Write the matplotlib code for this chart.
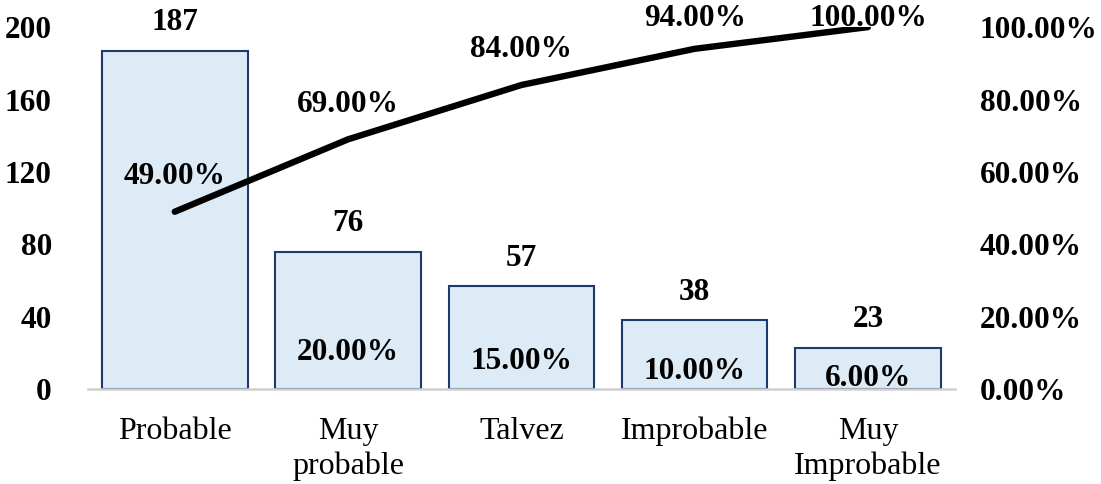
import numpy as np
import matplotlib
matplotlib.use("Agg")
import matplotlib.pyplot as plt

plt.rcParams['font.family'] = ['Liberation Serif', 'DejaVu Serif']

categorias = ["Probable", "Muy\nprobable", "Talvez", "Improbable", "Muy\nImprobable"]
frecuencia = [187, 76, 57, 38, 23]
porcentaje = [49, 20, 15, 10, 6]          # % individual
acumulado = [0.49, 0.69, 0.84, 0.94, 1.00]  # % acumulado

FS = 22.5
x = np.arange(len(categorias))

fig = plt.figure(figsize=(11.01, 4.84), dpi=100)
ax = fig.add_axes([0.08, 0.196, 0.787, 0.748])
ax2 = ax.twinx()

ax.bar(x, frecuencia, width=0.84, color="#DDEBF7", edgecolor="#1F3A6E", linewidth=1.5, zorder=2)
ax.set_xlim(-0.5, len(x) - 0.5)
ax.set_ylim(0, 200)
ax.set_yticks([0, 40, 80, 120, 160, 200])

ax2.set_ylim(0, 1)
ax2.set_yticks([0, 0.2, 0.4, 0.6, 0.8, 1.0])
ax2.set_yticklabels(["%.2f%%" % (v * 100) for v in ax2.get_yticks()])
ax2.plot(x, acumulado, color="black", linewidth=4.6, solid_capstyle="round", zorder=3)

for a in (ax, ax2):
    for s in a.spines.values():
        s.set_visible(False)
    a.tick_params(length=0)
ax.spines['bottom'].set_visible(True)
ax.spines['bottom'].set_color("#D0D0D0")
ax.spines['bottom'].set_linewidth(1.8)

ax.set_xticks(x)
ax.set_xticklabels(categorias, fontsize=23, linespacing=1.25)
ax.tick_params(axis='x', pad=20)
ax.tick_params(axis='y', pad=26)
ax2.tick_params(axis='y', pad=18)
for lbl in ax.get_yticklabels() + ax2.get_yticklabels():
    lbl.set_fontsize(FS)
    lbl.set_fontweight("bold")

# etiquetas de frecuencia
for xi, v in zip(x, frecuencia):
    ax2.annotate(str(v), (xi, v), xycoords=ax.transData, xytext=(0, 20),
                 textcoords="offset points", ha="center", va="center",
                 fontsize=FS, fontweight="bold", annotation_clip=False, zorder=5)

# porcentaje individual (el primero queda oculto)
for xi, p in list(zip(x, porcentaje))[1:]:
    ax2.text(xi, p, "%.2f%%" % p, transform=ax.transData, ha="center", va="center",
             fontsize=FS, fontweight="bold", zorder=5)

# porcentaje acumulado
for xi, c in zip(x, acumulado):
    yl = min(c * 200 + 19.5, 204.5)
    ax2.text(xi, yl, "%.2f%%" % (c * 100), transform=ax.transData, ha="center",
             va="center", fontsize=FS, fontweight="bold", zorder=5, clip_on=False)

fig.savefig("out.png", dpi=100)
